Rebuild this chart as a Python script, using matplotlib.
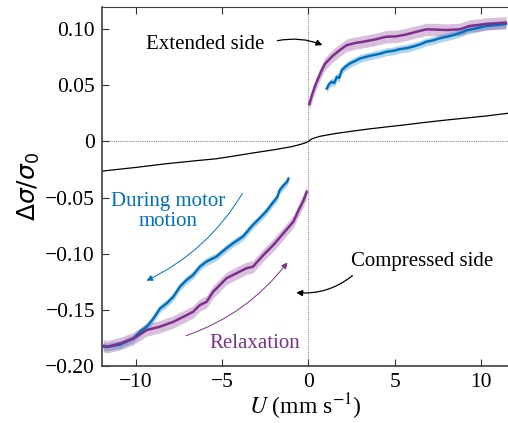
import numpy as np
import matplotlib
matplotlib.use("Agg")
import matplotlib.pyplot as plt

plt.rcParams['font.family'] = ['Liberation Serif', 'DejaVu Serif']
plt.rcParams['mathtext.fontset'] = 'stix'

# couleurs (style matlab)
blue = '#0072BD'
purple = '#7E2F8E'

# cote etendu (U > 0)
ext_relax_u = [0.05, 0.2, 0.4, 0.7, 0.96, 1.4, 1.8, 2.2, 2.7, 3.18, 3.8, 4.5, 5.1, 5.68,
               6.26, 6.84, 7.4, 8.0, 8.76, 9.34, 9.8, 10.3, 10.9, 11.45]
ext_relax_s = [0.033, 0.041, 0.050, 0.061, 0.069, 0.076, 0.081, 0.0855, 0.0875, 0.0887,
               0.0905, 0.0931, 0.0935, 0.0952, 0.0976, 0.0997, 0.0995, 0.0991, 0.0997, 0.1027,
               0.1035, 0.1045, 0.105, 0.1055]
ext_motor_u = [1.06, 1.2, 1.35, 1.5, 1.64, 1.78, 1.93, 2.15, 2.41, 2.7, 2.99, 3.4, 3.76, 4.1,
               4.5, 4.9, 5.3, 5.7, 6.1, 6.5, 6.84, 7.2, 7.6, 8.0, 8.4, 8.8, 9.2, 9.7, 10.3,
               10.9, 11.45]
ext_motor_s = [0.047, 0.051, 0.053, 0.052, 0.0574, 0.0565, 0.0634, 0.0665, 0.0694, 0.0715,
               0.0738, 0.0755, 0.0768, 0.0778, 0.0797, 0.0805, 0.0821, 0.083, 0.0845, 0.0865,
               0.0887, 0.0898, 0.0917, 0.093, 0.0946, 0.0965, 0.099, 0.1005, 0.1027, 0.1035,
               0.1045]

# cote comprime (U < 0)
comp_motor_u = [-11.9, -11.69, -10.92, -10.16, -9.77, -9.38, -9.0, -8.61, -8.23, -7.84, -7.46,
                -7.07, -6.69, -6.3, -5.91, -5.34, -4.76, -4.38, -3.8, -3.22, -2.8, -2.41,
                -2.12, -1.81, -1.68, -1.45, -1.25, -1.16]
comp_motor_s = [-0.183, -0.183, -0.181, -0.1756, -0.1696, -0.165, -0.158, -0.1488, -0.1444,
                -0.1384, -0.1295, -0.1235, -0.119, -0.1116, -0.107, -0.1027, -0.0952, -0.0908,
                -0.0848, -0.0744, -0.068, -0.0616, -0.0556, -0.0497, -0.0438, -0.0393, -0.0363,
                -0.0333]
comp_relax_u = [-11.9, -11.69, -10.92, -10.16, -9.38, -8.61, -7.84, -7.07, -6.69, -6.3, -5.91,
                -5.53, -5.14, -4.76, -4.38, -3.99, -3.6, -3.22, -2.6, -2.02, -1.45, -0.87,
                -0.58, -0.3, -0.1]
comp_relax_s = [-0.182, -0.183, -0.180, -0.1756, -0.168, -0.165, -0.1607, -0.1548, -0.1518,
                -0.1458, -0.1429, -0.134, -0.128, -0.122, -0.119, -0.116, -0.113, -0.1116,
                -0.101, -0.092, -0.0818, -0.0714, -0.0616, -0.053, -0.045]

# incertitudes (demi-largeur des bandes)
err_motor = 0.0035
err_relax = 0.0055

# courbe theorique
theo_u = [-11.97, -10.0, -8.23, -6.5, -5.34, -4.2, -3.2, -2.0, -1.0, -0.48, -0.15, 0.0, 0.19,
          0.67, 1.5, 2.6, 3.5, 4.5, 5.5, 6.45, 7.4, 8.38, 9.3, 10.3, 11.57]
theo_s = [-0.0265, -0.0232, -0.0199, -0.0172, -0.0155, -0.0128, -0.0103, -0.0075, -0.0048,
          -0.0028, -0.0012, 0.0, 0.0022, 0.0045, 0.0068, 0.0092, 0.011, 0.0128, 0.0145, 0.0163,
          0.018, 0.0196, 0.021, 0.0226, 0.025]

xticks = [-10, -5, 0, 5, 10]
xtick_labels = ['\u221210', '\u22125', '0', '5', '10']
yticks = [-0.20, -0.15, -0.10, -0.05, 0, 0.05, 0.10]
ytick_labels = ['\u22120.20', '\u22120.15', '\u22120.10', '\u22120.05', '0', '0.05', '0.10']

fig = plt.figure(figsize=(5.08, 4.23), dpi=100)
ax = fig.add_axes([102/508, 57/423, 406/508, 359/423])

ax.axhline(0, color='0.55', lw=0.8, ls=(0, (1, 1)), zorder=1)
ax.axvline(0, color='0.55', lw=0.8, ls=(0, (1, 1)), zorder=1)

ax.plot(theo_u, theo_s, color='k', lw=0.9, zorder=2)

for u, s, c, e in [(ext_motor_u, ext_motor_s, blue, err_motor),
                   (comp_motor_u, comp_motor_s, blue, err_motor),
                   (ext_relax_u, ext_relax_s, purple, err_relax),
                   (comp_relax_u, comp_relax_s, purple, err_relax)]:
    u = np.array(u)
    s = np.array(s)
    ax.fill_between(u, s - e, s + e, color=c, alpha=0.3, lw=0, zorder=3)
    ax.plot(u, s, color=c, lw=1.8, zorder=4)

ax.set_xlim(-11.97, 11.57)
ax.set_ylim(-0.20, 0.1196)
ax.set_xticks(xticks, xtick_labels)
ax.set_yticks(yticks, ytick_labels)
ax.tick_params(direction='in', top=True, right=False, length=5, width=0.8,
               labelsize=15.5, colors='0.2', labelcolor='k', pad=5)
for sp in ['left', 'bottom', 'top']:
    ax.spines[sp].set_color('0.25')
    ax.spines[sp].set_linewidth(1.2)
ax.spines['top'].set_linewidth(0.8)
ax.spines['right'].set_visible(False)

ax.set_xlabel('$U$ (mm s$^{-1}$)', fontsize=17, labelpad=0)
ax.set_ylabel(r'$\Delta\sigma/\sigma_0$', fontsize=18, math_fontfamily='dejavusans', labelpad=2)

# annotations
ax.text(-6.0, 0.0866, 'Extended side', fontsize=15, ha='center', va='center')
ax.annotate('', xy=(0.81, 0.0857), xytext=(-1.8, 0.0896),
            arrowprops=dict(arrowstyle='-|>', color='k', lw=0.9, mutation_scale=9,
                            shrinkA=0, shrinkB=0, connectionstyle='arc3,rad=-0.15'))
ax.text(6.6, -0.107, 'Compressed side', fontsize=15, ha='center', va='center')
ax.annotate('', xy=(-0.71, -0.1346), xytext=(2.55, -0.1196),
            arrowprops=dict(arrowstyle='-|>', color='k', lw=0.9, mutation_scale=9,
                            shrinkA=0, shrinkB=0, connectionstyle='arc3,rad=-0.2'))
ax.text(-8.15, -0.0625, 'During motor\nmotion', fontsize=15, ha='center', va='center',
        color=blue, linespacing=1.1)
ax.annotate('', xy=(-9.39, -0.124), xytext=(-3.83, -0.0464),
            arrowprops=dict(arrowstyle='-|>', color=blue, lw=0.7, mutation_scale=9,
                            shrinkA=0, shrinkB=0, connectionstyle='arc3,rad=-0.15'))
ax.text(-3.1, -0.180, 'Relaxation', fontsize=15, ha='center', va='center', color=purple)
ax.annotate('', xy=(-1.22, -0.1078), xytext=(-7.09, -0.173),
            arrowprops=dict(arrowstyle='-|>', color=purple, lw=0.7, mutation_scale=9,
                            shrinkA=0, shrinkB=0, connectionstyle='arc3,rad=0.15'))

fig.savefig('out.png', dpi=100)
